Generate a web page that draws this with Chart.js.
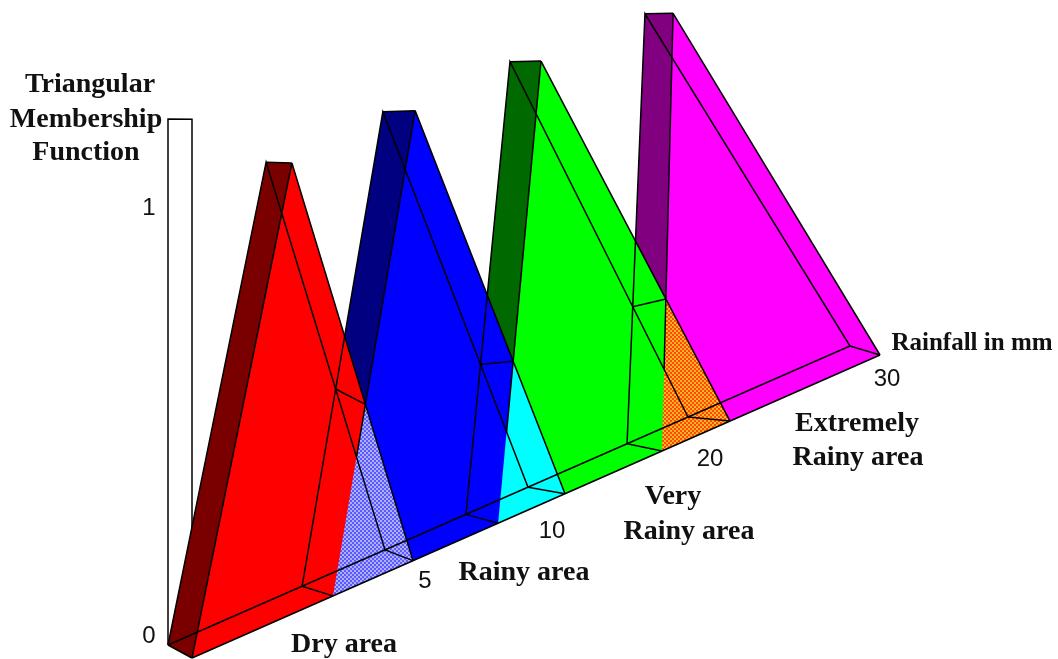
<!DOCTYPE html>
<html>
<head>
<meta charset="utf-8">
<title>Triangular Membership Function</title>
<script src="https://cdn.jsdelivr.net/npm/chart.js@4"></script>
<style>
    html, body { margin: 0; padding: 0; background: #fff; }
    canvas { display: block; }
</style>
</head>
<body>
<canvas id="chart" width="1058" height="659"></canvas>
<script>
// areas
var categories = ['Dry area', 'Rainy area', 'Very Rainy area', 'Extremely Rainy area'];
var rainfallTicks = [0, 5, 10, 20, 30];
var membershipTicks = [0, 1];
var wallTopNear = 1.198;
var wallTopFar = 1.2025;

// membership at foot, peak, foot
var membership = [0, 1, 0];

// rainfall (mm) of foot, peak, foot on the near edge of each ribbon
var dryFront = [0, 2.26, 5];
var rainyFront = [3.19, 5.07, 10];
var veryFront = [7.8, 9.21, 20];
var extremeFront = [15.88, 16.55, 30];

// same on the far edge
var dryBack = [0, 2.26, 5];
var rainyBack = [3.09, 4.95, 10];
var veryBack = [7.83, 9.37, 20];
var extremeBack = [16.19, 17.31, 30];

// view of the 3D box: where the rainfall ticks land on each edge of the floor
var nearEdge = { ticksAt: [192, 413, 565, 730, 880], startY: 658, rise: 0.4404, height: 451, crest: 292, sag: 1.25e-4 };
var farEdge = { ticksAt: [168, 385, 528, 688, 850], startY: 645, rise: 0.4384, height: 440, crest: 300, sag: 1.5e-4 };

function project(edge, mm, m) {
    var i = 0;
    while (i < rainfallTicks.length - 2 && mm > rainfallTicks[i + 1]) { i++; }
    var share = (mm - rainfallTicks[i]) / (rainfallTicks[i + 1] - rainfallTicks[i]);
    var x = edge.ticksAt[i] + share * (edge.ticksAt[i + 1] - edge.ticksAt[i]);
    var floorY = edge.startY - edge.rise * (x - edge.ticksAt[0]);
    var h = edge.height - edge.sag * (x - edge.crest) * (x - edge.crest);
    return { x: x, y: floorY - m * h };
}

function corners(edge, rain) {
    return rain.map(function (mm, i) { return project(edge, mm, membership[i]); });
}

function cross(a, b, c, d) {
    var t = ((c.x - a.x) * (d.y - c.y) - (c.y - a.y) * (d.x - c.x)) /
            ((b.x - a.x) * (d.y - c.y) - (b.y - a.y) * (d.x - c.x));
    return { x: a.x + t * (b.x - a.x), y: a.y + t * (b.y - a.y) };
}

// the two overlap patches are a fine checker in the original
function dither(a, b) {
    var c = document.createElement('canvas');
    c.width = c.height = 4;
    var g = c.getContext('2d');
    g.fillStyle = a;
    g.fillRect(0, 0, 4, 4);
    g.fillStyle = b;
    g.fillRect(0, 0, 2, 2);
    g.fillRect(2, 2, 2, 2);
    return g.createPattern(c, 'repeat');
}

var layers = [];

function addShape(points, color) {
    layers.push({
        data: points, showLine: true, fill: 'shape', backgroundColor: color,
        borderWidth: 0, pointRadius: 0, tension: 0
    });
}

function addLine(points) {
    layers.push({
        data: points, showLine: true, fill: false, borderColor: '#000',
        borderWidth: 1.5, pointRadius: 0, tension: 0
    });
}

var ribbons = [
    { front: corners(nearEdge, dryFront), back: corners(farEdge, dryBack), dark: '#7a0000', bright: '#ff0000' },
    { front: corners(nearEdge, rainyFront), back: corners(farEdge, rainyBack), dark: '#000080', bright: '#0000ff' },
    { front: corners(nearEdge, veryFront), back: corners(farEdge, veryBack), dark: '#006a00', bright: '#00ff00' },
    { front: corners(nearEdge, extremeFront), back: corners(farEdge, extremeBack), dark: '#800080', bright: '#ff00ff' }
];
var overlaps = [dither('#5a5aff', '#aeaeff'), '#00ffff', dither('#ff4800', '#ffb428')];

// the white wall behind the ribbons
var wall = [
    project(farEdge, rainfallTicks[0], 0),
    project(farEdge, rainfallTicks[0], wallTopFar),
    project(nearEdge, rainfallTicks[0], wallTopNear),
    project(nearEdge, rainfallTicks[0], 0)
];
addShape(wall, '#ffffff');
addLine(wall);

// far ribbon first, near ribbon last
for (var r = ribbons.length - 1; r >= 0; r--) {
    var rb = ribbons[r];
    addShape([rb.back[0], rb.back[1], rb.front[1], rb.front[0]], rb.dark);
    addShape(rb.front, rb.bright);
}

ribbons.forEach(function (rb, r) {
    var next = ribbons[r + 1];
    if (next) {
        var tip = cross(rb.front[1], rb.front[2], next.front[0], next.front[1]);
        addShape([next.front[0], tip, rb.front[2]], overlaps[r]);
    }
});

addLine([project(farEdge, rainfallTicks[0], 0), project(farEdge, rainfallTicks[4], 0)]);
addLine([project(nearEdge, rainfallTicks[0], 0), project(nearEdge, rainfallTicks[4], 0)]);

ribbons.forEach(function (rb, r) {
    var prev = ribbons[r - 1];
    var next = ribbons[r + 1];
    addLine(rb.back);
    addLine([rb.back[0], rb.front[0]]);
    addLine([rb.back[1], rb.front[1]]);
    addLine([rb.back[2], rb.front[2]]);
    addLine([rb.front[1], rb.front[2]]);
    if (prev) {
        // the near left leg fades out where the ribbon before it crosses
        addLine([rb.front[1], cross(rb.front[0], rb.front[1], prev.back[1], prev.back[2])]);
    } else {
        addLine([rb.front[0], rb.front[1]]);
    }
    if (next) {
        addLine([cross(rb.back[1], rb.back[2], next.back[0], next.back[1]),
                 cross(rb.front[1], rb.front[2], next.front[0], next.front[1])]);
    }
});

var boldSerif = 'bold 28px "Liberation Serif"';
var tickFont = '24px "Liberation Sans"';

var textLabels = [
    { text: 'Triangular', x: 90, y: 85, font: boldSerif },
    { text: 'Membership', x: 86, y: 120, font: boldSerif },
    { text: 'Function', x: 86, y: 153, font: boldSerif },
    { text: String(membershipTicks[1]), x: 149, y: 208, font: tickFont },
    { text: String(membershipTicks[0]), x: 149, y: 636, font: tickFont },
    { text: String(rainfallTicks[1]), x: 425, y: 581, font: tickFont },
    { text: String(rainfallTicks[2]), x: 552, y: 531, font: tickFont },
    { text: String(rainfallTicks[3]), x: 710, y: 459, font: tickFont },
    { text: String(rainfallTicks[4]), x: 887, y: 379, font: tickFont },
    { text: 'Dry area', x: 344, y: 645, font: boldSerif },
    { text: 'Rainy area', x: 524, y: 573, font: boldSerif },
    { text: 'Very', x: 673, y: 497, font: boldSerif },
    { text: 'Rainy area', x: 689, y: 532, font: boldSerif },
    { text: 'Extremely', x: 857, y: 424, font: boldSerif },
    { text: 'Rainy area', x: 858, y: 458, font: boldSerif },
    { text: 'Rainfall in mm', x: 972, y: 344, font: 'bold 25px "Liberation Serif"' }
];

var textPlugin = {
    id: 'textPlugin',
    afterDraw: function (chart) {
        var ctx = chart.ctx;
        ctx.save();
        ctx.fillStyle = '#111';
        ctx.textAlign = 'center';
        ctx.textBaseline = 'middle';
        textLabels.forEach(function (l) {
            ctx.font = l.font;
            ctx.fillText(l.text, chart.scales.x.getPixelForValue(l.x), chart.scales.y.getPixelForValue(l.y));
        });
        ctx.restore();
    }
};

// chart.js paints the first dataset last
new Chart(document.getElementById('chart'), {
    type: 'scatter',
    data: { datasets: layers.reverse() },
    plugins: [textPlugin],
    options: {
        responsive: false,
        animation: false,
        events: [],
        layout: { padding: 0 },
        plugins: { legend: { display: false }, tooltip: { enabled: false } },
        scales: {
            x: { type: 'linear', display: false, min: 0, max: 1058 },
            y: { type: 'linear', display: false, min: 0, max: 659, reverse: true }
        }
    }
});
</script>
</body>
</html>
